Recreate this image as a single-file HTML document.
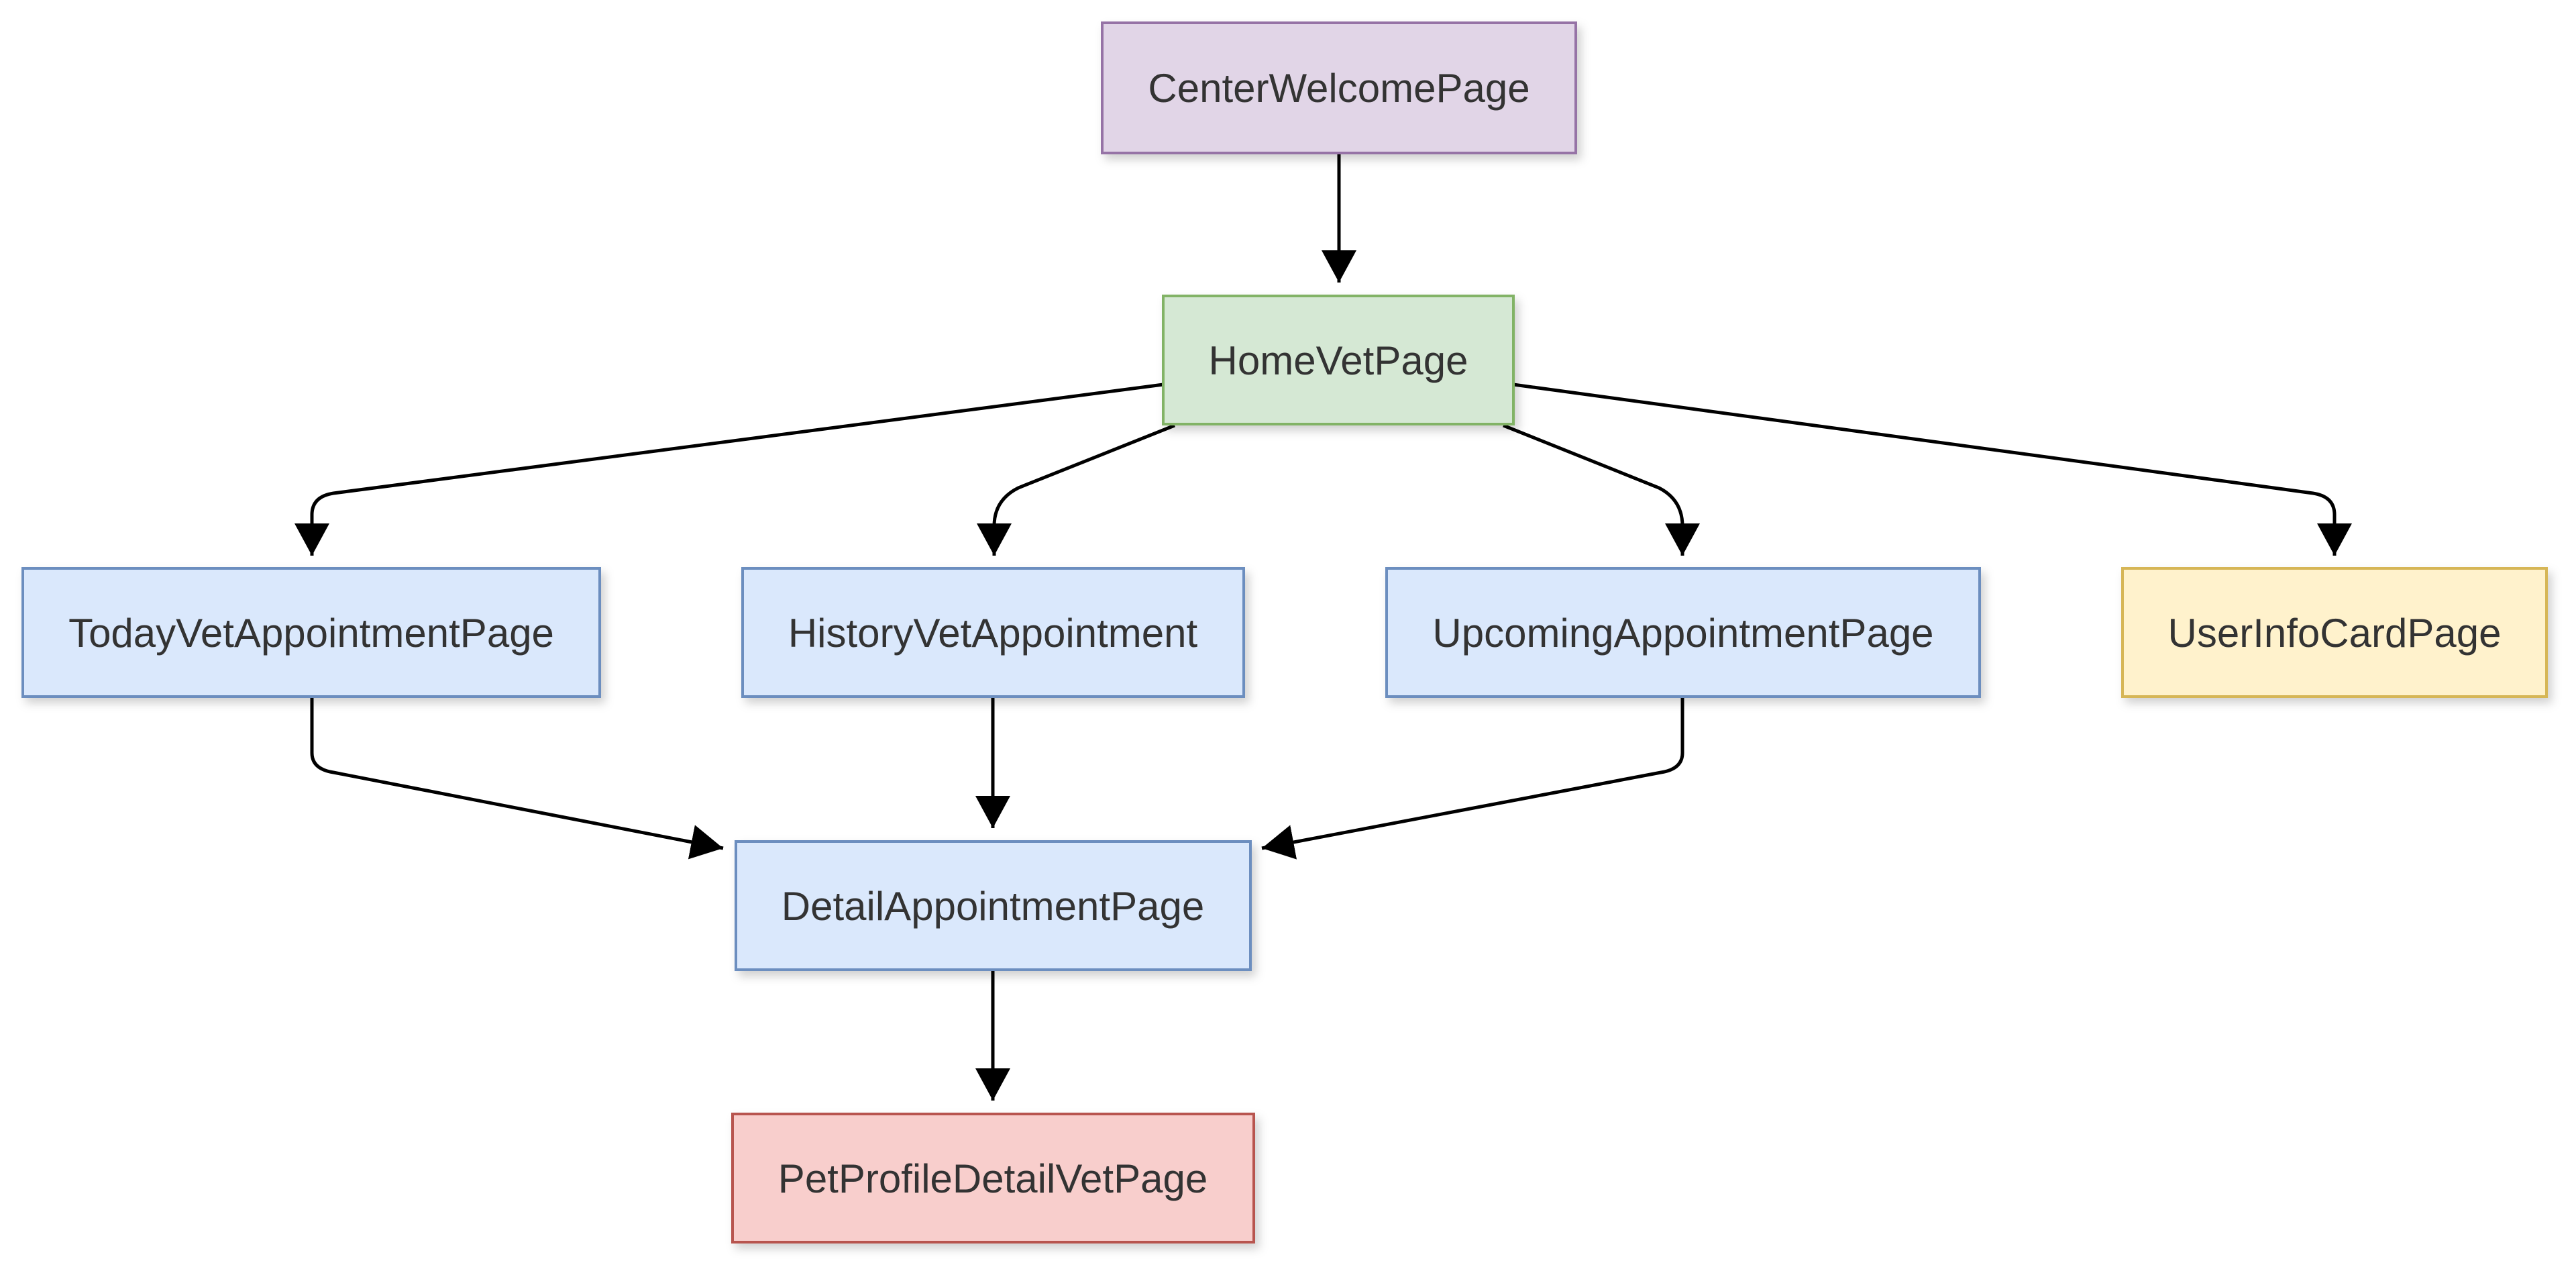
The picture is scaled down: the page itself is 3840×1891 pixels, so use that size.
<!DOCTYPE html>
<html><head><meta charset="utf-8"><style>
html,body{margin:0;padding:0;background:#fff;}
svg{display:block;}
text{font-family:"Liberation Sans",Arial,sans-serif;font-size:60px;fill:#333;}
</style></head><body>
<svg width="3840" height="1891" viewBox="0 0 3840 1891" xmlns="http://www.w3.org/2000/svg">
<defs>
<filter id="sh" x="-10%" y="-10%" width="130%" height="140%">
<feDropShadow dx="6" dy="8" stdDeviation="7" flood-color="#000" flood-opacity="0.18"/>
</filter>
<marker id="ar" markerUnits="userSpaceOnUse" markerWidth="60" markerHeight="60" refX="48" refY="26" orient="auto">
<path d="M0,0 L48,26 L0,52 Z" fill="#000"/>
</marker>
</defs>
<g fill="none" stroke="#000" stroke-width="5">
<path d="M1996,228 L1996,421" marker-end="url(#ar)"/>
<path d="M1734,573 L497,735 Q465,740 465,767 L465,828" marker-end="url(#ar)"/>
<path d="M1751,634 L1518,727 Q1482,745 1482,784 L1482,828" marker-end="url(#ar)"/>
<path d="M2241,634 L2473,727 Q2508,745 2508,784 L2508,828" marker-end="url(#ar)"/>
<path d="M2256,573 L3448,735 Q3480,740 3480,767 L3480,828" marker-end="url(#ar)"/>
<path d="M465,1038 L465,1122 Q465,1146 497,1151 L1078,1264" marker-end="url(#ar)"/>
<path d="M1480,1038 L1480,1234" marker-end="url(#ar)"/>
<path d="M2508,1038 L2508,1122 Q2508,1146 2476,1151 L1881,1264" marker-end="url(#ar)"/>
<path d="M1480,1445 L1480,1640" marker-end="url(#ar)"/>
</g>
<g stroke-width="4" filter="url(#sh)">
<rect x="1643" y="34" width="706" height="194" fill="#e1d5e7" stroke="#9673a6"/>
<rect x="1734" y="441" width="522" height="191" fill="#d5e8d4" stroke="#82b366"/>
<rect x="34" y="847" width="860" height="191" fill="#dae8fc" stroke="#6c8ebf"/>
<rect x="1107" y="847" width="747" height="191" fill="#dae8fc" stroke="#6c8ebf"/>
<rect x="2067" y="847" width="884" height="191" fill="#dae8fc" stroke="#6c8ebf"/>
<rect x="3164" y="847" width="632" height="191" fill="#fff2cc" stroke="#d6b656"/>
<rect x="1097" y="1254" width="767" height="191" fill="#dae8fc" stroke="#6c8ebf"/>
<rect x="1092" y="1660" width="777" height="191" fill="#f8cecc" stroke="#b85450"/>
</g>
<g text-anchor="middle">
<text x="1996" y="152">CenterWelcomePage</text>
<text x="1995" y="558">HomeVetPage</text>
<text x="464" y="964">TodayVetAppointmentPage</text>
<text x="1480" y="964">HistoryVetAppointment</text>
<text x="2509" y="964">UpcomingAppointmentPage</text>
<text x="3480" y="964">UserInfoCardPage</text>
<text x="1480" y="1371">DetailAppointmentPage</text>
<text x="1480" y="1777">PetProfileDetailVetPage</text>
</g>
</svg>
</body></html>
